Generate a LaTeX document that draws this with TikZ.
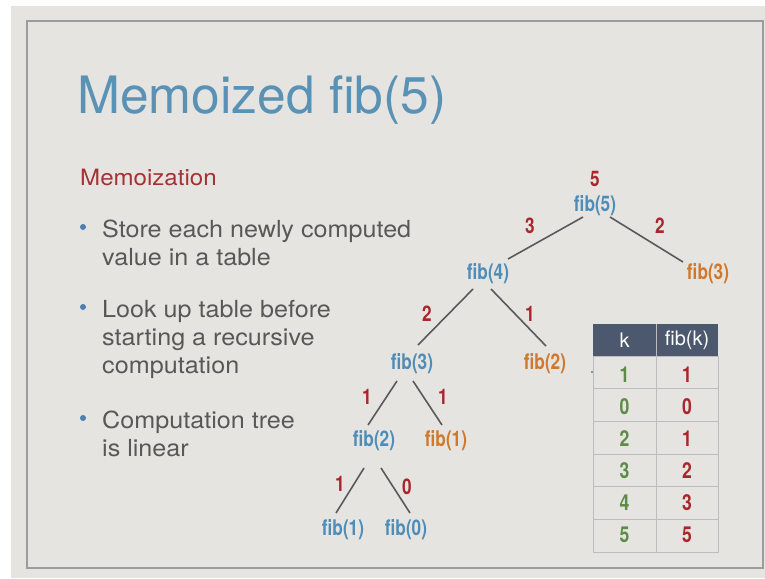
\documentclass[tikz,border=0pt]{standalone}
\usepackage{fontspec}
\setmainfont{TeX Gyre Heros}
\newfontfamily\widesans{TeX Gyre Heros}[FakeStretch=1.07]
\newfontfamily\condsans{TeX Gyre Heros}[FakeStretch=0.8]
\usetikzlibrary{calc}

\definecolor{titleblue}{HTML}{5A92B6}
\definecolor{memored}{HTML}{A33234}
\definecolor{bodygray}{HTML}{585858}
\definecolor{bulletblue}{HTML}{4A7FB0}
\definecolor{treeblue}{HTML}{4E8DB8}
\definecolor{treeorange}{HTML}{D0782C}
\definecolor{labelred}{HTML}{A8262C}
\definecolor{kgreen}{HTML}{5B8C48}
\definecolor{headfill}{HTML}{4B586E}
\definecolor{slidebg}{HTML}{E5E4E0}
\definecolor{framegray}{HTML}{9C9C9C}
\definecolor{gridgray}{HTML}{BCBCBC}
\definecolor{edgegray}{HTML}{5A5A5A}

\begin{document}
\begin{tikzpicture}[x=1pt,y=-1pt,
  bodyline/.style={anchor=base west, inner sep=0pt, text=bodygray,
    font=\widesans\fontsize{23.5}{28}\selectfont},
  bulletdot/.style={fill=bulletblue, draw=none, circle, inner sep=0pt, minimum size=6pt},
  call/.style={inner sep=0pt, font=\condsans\bfseries\fontsize{21.5}{24}\selectfont},
  fresh/.style={call, text=treeblue},
  cached/.style={call, text=treeorange},
  result/.style={inner sep=0pt, text=labelred, font=\condsans\bfseries\fontsize{21.5}{24}\selectfont},
  edge/.style={draw=edgegray, line width=1.6pt},
  headcell/.style={inner sep=0pt, text=white, font=\fontsize{20}{24}\selectfont},
  kcell/.style={inner sep=0pt, text=kgreen, font=\condsans\bfseries\fontsize{22}{24}\selectfont},
  vcell/.style={inner sep=0pt, text=labelred, font=\condsans\bfseries\fontsize{22}{24}\selectfont},
  grid/.style={draw=gridgray, line width=1pt}
]
\useasboundingbox (0,0) rectangle (765,578);
\fill[white] (0,0) rectangle (765,578);
\fill[slidebg] (11,6) rectangle (765,578);
\draw[framegray, line width=1.6pt] (27,21) rectangle (763,568);

% title
\node[anchor=base west, inner sep=0pt, text=titleblue,
  font=\fontsize{51.5}{60}\selectfont] (title) at (77,113) {Memoized fib(5)};

% left column
\node[anchor=base west, inner sep=0pt, text=memored,
  font=\widesans\fontsize{22.5}{26}\selectfont] (memo) at (80,185) {Memoization};

\node[bulletdot] (b1) at (83,227) {};
\node[bodyline] (l1) at (102,237) {Store each newly computed};
\node[bodyline] (l2) at (102,265) {value in a table};
\node[bulletdot] (b2) at (83,307) {};
\node[bodyline] (l3) at (102,317) {Look up table before};
\node[bodyline] (l4) at (102,345) {starting a recursive};
\node[bodyline] (l5) at (102,373) {computation};
\node[bulletdot] (b3) at (83,418) {};
\node[bodyline] (l6) at (102,428) {Computation tree};
\node[bodyline] (l7) at (102,456) {is linear};

% computation tree
\node[fresh]  (f5)  at (595,206) {fib(5)};
\node[fresh]  (f4)  at (488,274) {fib(4)};
\node[cached] (f3r) at (708,274) {fib(3)};
\node[fresh]  (f3)  at (412,364) {fib(3)};
\node[cached] (f2r) at (545,364) {fib(2)};
\node[fresh]  (f2)  at (374,441) {fib(2)};
\node[cached] (f1r) at (446,441) {fib(1)};
\node[fresh]  (f1)  at (343,530) {fib(1)};
\node[fresh]  (f0)  at (406,530) {fib(0)};

\draw[edge] ($(f5)+(-12,11)$) -- ($(f4)+(20,-15)$);
\draw[edge] ($(f5)+(15,11)$)  -- ($(f3r)+(-25,-12)$);
\draw[edge] ($(f4)+(-15,15)$) -- ($(f3)+(6,-19)$);
\draw[edge] ($(f4)+(3,15)$)   -- ($(f2r)+(1,-18)$);
\draw[edge] ($(f3)+(-15,17)$) -- ($(f2)+(-6,-16)$);
\draw[edge] ($(f3)+(1,17)$)   -- ($(f1r)+(-4,-16)$);
\draw[edge] ($(f2)+(-10,27)$) -- ($(f1)+(-7,-17)$);
\draw[edge] ($(f2)+(7,27)$)   -- ($(f0)+(4,-17)$);

% returned values
\node[result] (r5)  at (595,179) {5};
\node[result] (r4)  at (530,226) {3};
\node[result] (r3r) at (660,226) {2};
\node[result] (r3)  at (427,314) {2};
\node[result] (r2r) at (530,314) {1};
\node[result] (r2)  at (367,397) {1};
\node[result] (r1r) at (443,397) {1};
\node[result] (r1)  at (340,484) {1};
\node[result] (r0)  at (407,487) {0};

% memo table
\fill[headfill] (593,324) rectangle (718,356);
\draw[grid] (593,356) rectangle (718,552);
\foreach \j in {1,...,5} \draw[grid] (593,356+32.67*\j) -- (718,356+32.67*\j);
\draw[grid] (656,324) -- (656,552);
\node[headcell] (hk) at (624.5,340) {k};
\node[headcell] (hv) at (687,340) {fib(k)};
\foreach \k/\v [count=\i] in {1/1,0/0,2/1,3/2,4/3,5/5} {
  \node[kcell] (k\i) at (624.5,342+32.2*\i) {\k};
  \node[vcell] (v\i) at (687,342+32.2*\i) {\v};
}
\fill[bulletblue] (592,372) circle (1.1pt);
\end{tikzpicture}
\end{document}
